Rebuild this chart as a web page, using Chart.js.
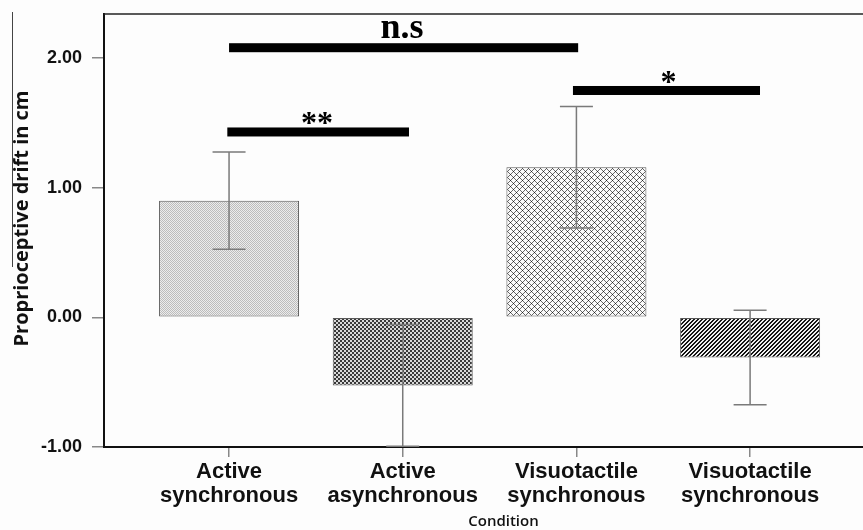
<!DOCTYPE html>
<html><head><meta charset="utf-8">
<script src="https://cdn.jsdelivr.net/npm/chart.js@4"></script>
<style>html,body{margin:0;padding:0;background:#fdfdfd}canvas{display:block}</style>
</head><body>
<canvas id="c" width="863" height="530"></canvas>
<script>
const categories = [['Active','synchronous'],['Active','asynchronous'],['Visuotactile','synchronous'],['Visuotactile','synchronous']];
const means = [0.90, -0.525, 1.158, -0.31];
const errors = [0.375, 0.47, 0.468, 0.365];
const yTicks = [-1, 0, 1, 2];
const sigLabels = ['n.s', '**', '*'];
const sigFrom = [0.0, -0.01, 1.98];
const sigTo = [2.01, 1.036, 3.057];
const sigY = [2.08, 1.43, 1.75];
const sigLabelX = [0.996, 0.507, 2.53];
const xTitle = 'Condition';
const yTitle = 'Proprioceptive drift in cm';

function makePattern(size, fn){
  const c=document.createElement('canvas'); c.width=c.height=size;
  const g=c.getContext('2d'); const img=g.createImageData(size,size);
  for(let y=0;y<size;y++)for(let x=0;x<size;x++){
    const v=fn(x,y); const k=(y*size+x)*4;
    img.data[k]=img.data[k+1]=img.data[k+2]=v; img.data[k+3]=255;
  }
  g.putImageData(img,0,0);
  return g.createPattern(c,'repeat');
}
const patterns=[
  makePattern(2,(x,y)=>((x+y)%2===0?0xbc:0xec)),
  makePattern(4,(x,y)=>((Math.floor(x/2)+Math.floor(y/2))%2===0?0x38:0xd8)),
  makePattern(6,(x,y)=>{const d1=(x+y)%6,d2=(x-y+6)%6; if(d1===0&&d2===0)return 0x22; if(d1===0||d2===0)return 0x68; return 0xfa;}),
  makePattern(4,(x,y)=>(((x+y)%4)<2?0x15:0xf0))
];

const extras={
  id:'extras',
  afterDatasetsDraw(chart){
    const {ctx,scales:{x,y}}=chart;
    ctx.save();
    ctx.strokeStyle='#7a7a7a'; ctx.lineWidth=1.5;
    means.forEach((m,i)=>{
      const px=x.getPixelForValue(i), t=y.getPixelForValue(m+errors[i]), b=y.getPixelForValue(m-errors[i]), cap=16.5;
      ctx.beginPath();
      ctx.moveTo(px,t);ctx.lineTo(px,b);
      ctx.moveTo(px-cap,t);ctx.lineTo(px+cap,t);
      ctx.moveTo(px-cap,b);ctx.lineTo(px+cap,b);
      ctx.stroke();
    });
    ctx.restore();
  },
  afterDraw(chart){
    const {ctx,scales:{x,y},chartArea:a}=chart;
    ctx.save();
    ctx.strokeStyle='#222'; ctx.lineWidth=1.5;
    ctx.beginPath(); ctx.moveTo(a.left,a.top); ctx.lineTo(a.right,a.top); ctx.stroke();
    ctx.strokeStyle='#444'; ctx.lineWidth=1;
    ctx.beginPath(); ctx.moveTo(12.5,a.top-2); ctx.lineTo(12.5,a.top+253); ctx.stroke();
    ctx.fillStyle='#111';
    ctx.textAlign='center'; ctx.textBaseline='middle';
    ctx.font='600 15px "Open Sans", sans-serif';
    ctx.fillText(xTitle, x.getPixelForValue(1.58), 522);
    ctx.save();
    ctx.translate(22,(a.top+a.bottom)/2-12);
    ctx.rotate(-Math.PI/2);
    ctx.font='bold 20px "Open Sans", sans-serif';
    ctx.fillText(yTitle,0,0);
    ctx.restore();
    ctx.fillStyle='#000';
    sigLabels.forEach((lab,i)=>{
      const x1=x.getPixelForValue(sigFrom[i]), x2=x.getPixelForValue(sigTo[i]), yc=y.getPixelForValue(sigY[i]);
      ctx.fillRect(x1,yc-4.5,x2-x1,9);
      const isStar=lab.indexOf('*')>=0;
      ctx.font='bold '+(isStar?32:36)+'px "Liberation Serif", serif';
      ctx.textAlign='center'; ctx.textBaseline='alphabetic';
      const m=ctx.measureText(lab);
      const gap=isStar?3:5;
      ctx.fillText(lab, x.getPixelForValue(sigLabelX[i]), yc-4.5-gap-m.actualBoundingBoxDescent);
    });
    ctx.restore();
  }
};

new Chart(document.getElementById('c').getContext('2d'),{
  type:'bar',
  data:{datasets:[{
    data:means.map((m,i)=>({x:i,y:m})),
    backgroundColor:patterns, borderColor:'#5a5a5a', borderWidth:1, borderSkipped:false,
    barPercentage:0.806, categoryPercentage:1
  }]},
  options:{
    responsive:false, animation:false, devicePixelRatio:1,
    layout:{padding:{top:14,right:0,left:0,bottom:0}},
    plugins:{legend:{display:false},tooltip:{enabled:false}},
    scales:{
      x:{type:'linear',min:-0.72,max:3.65,offset:false,
        afterBuildTicks:s=>{s.ticks=categories.map((c,i)=>({value:i}));},
        afterFit:s=>{s.height=83;s.paddingLeft=0;s.paddingRight=0;},
        ticks:{callback:v=>categories[v],color:'#111',font:{family:'"Liberation Sans", Arial, sans-serif',size:22,weight:'bold',lineHeight:1.08},padding:3,maxRotation:0,autoSkip:false},
        grid:{drawOnChartArea:false,offset:false,tickLength:10,color:'#888',lineWidth:1.5},
        border:{color:'#111',width:2}
      },
      y:{min:-1,max:2.34,
        afterBuildTicks:s=>{s.ticks=yTicks.map(v=>({value:v}));},
        afterFit:s=>{s.width=104;s.paddingTop=0;s.paddingBottom=0;},
        ticks:{callback:v=>v.toFixed(2),color:'#111',font:{family:'"Liberation Sans", Arial, sans-serif',size:18,weight:'bold'},padding:10},
        grid:{drawOnChartArea:false,tickLength:12,color:'#888',lineWidth:1.5},
        border:{color:'#111',width:2}
      }
    }
  },
  plugins:[extras]
});
</script>
</body></html>
